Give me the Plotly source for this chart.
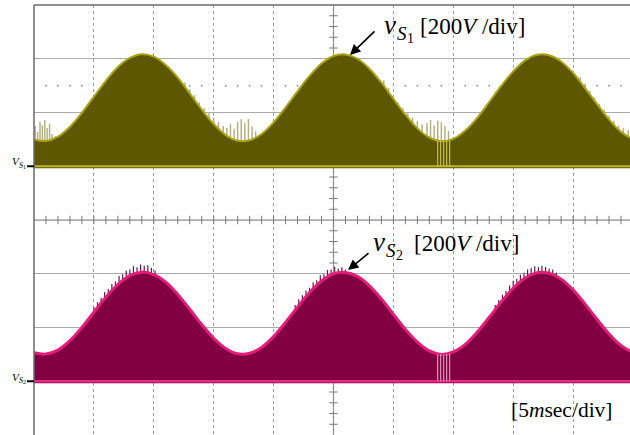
import plotly.graph_objects as go

# ---------------- data ----------------
t_ms = list(range(0, 51))  # time, ms (5 ms/div)

# envelope of switch voltage vS1 (V)
v_s1 = [100, 94, 110, 147, 199, 259, 318, 369, 403, 417, 408, 377, 330, 271, 211, 157, 116, 95,
        97, 120, 163, 219, 279, 336, 382, 410, 416, 400, 363, 311, 251, 192, 141, 107, 93, 102,
        133, 180, 239, 299, 353, 394, 415, 413, 390, 347, 291, 231, 174, 128, 100]

# envelope of switch voltage vS2 (V)
v_s2 = [106, 101, 116, 151, 200, 257, 313, 360, 393, 406, 397, 369, 323, 268, 211, 160, 122, 102,
        104, 126, 166, 219, 276, 330, 373, 400, 405, 390, 355, 306, 249, 193, 146, 113, 100, 109,
        137, 183, 238, 295, 346, 384, 404, 402, 380, 340, 287, 230, 176, 133, 106]

# light ringing spikes on vS1 (time ms, peak V)
s1_spike_t = [0.1, 0.3, 0.5, 0.7, 0.9, 1.1, 1.3, 1.5, 1.8,
              12.6, 13.0, 13.4, 13.8, 14.2, 14.6, 15.0, 15.4, 15.8, 16.1, 16.4, 16.7, 17.0, 17.3,
              17.6, 17.9, 18.2, 18.5,
              29.2, 29.6, 30.0, 30.4, 30.8, 31.2, 31.6, 32.0, 32.4, 32.8, 33.1, 33.4, 33.7, 34.0,
              34.3, 34.6,
              45.6, 46.0, 46.4, 46.8, 47.2, 47.6, 48.0, 48.4, 48.8, 49.2, 49.6]
s1_spike_v = [150, 128, 165, 152, 172, 142, 158, 120, 112,
              312, 287, 264, 238, 216, 197, 180, 164, 150, 142, 158, 140, 165, 175,
              160, 176, 148, 130,
              320, 292, 264, 237, 216, 197, 182, 167, 155, 160, 172, 152, 170, 163,
              150, 132,
              332, 307, 280, 254, 232, 210, 188, 170, 152, 142, 134]

# dark overshoot spikes on vS2 around the peaks (time ms, peak V)
s2_spike_t = [5.0, 5.3, 5.6, 5.9, 6.2, 6.5, 6.8, 7.1, 7.4, 7.7, 8.0, 8.3, 8.6, 8.9, 9.2, 9.5, 9.8, 10.1,
              21.8, 22.1, 22.4, 22.7, 23.0, 23.3, 23.6, 23.9, 24.2, 24.5, 24.8, 25.1, 25.4, 25.7, 26.0,
              38.5, 38.8, 39.1, 39.4, 39.7, 40.0, 40.3, 40.6, 40.9, 41.2, 41.5, 41.8, 42.1, 42.4,
              42.7, 43.0, 43.3, 43.6]
s2_spike_v = [275, 294, 310, 332, 343, 362, 372, 392, 398, 412, 416, 428, 424, 434, 430, 432, 422, 412,
              284, 305, 320, 338, 348, 368, 376, 394, 398, 414, 416, 426, 420, 424, 416,
              284, 302, 322, 336, 356, 374, 381, 396, 404, 416, 421, 428, 424, 430,
              425, 420, 416, 405]

# short dead-band switching lines near the 3rd valley (time ms, height V)
gap_t = [33.7, 33.95, 34.2, 34.45, 34.7]
gap_v1 = [94, 95, 93, 94, 95]
gap_v2 = [100, 101, 100, 101, 102]

VOLTS_PER_DIV = 200.0
CH1_OFF = 1.0   # divisions
CH2_OFF = -3.0

# ---------------- geometry helpers ----------------
X_MAX = 50 * 596 / 599


def px(p):      # page pixel x -> paper fraction
    return (p - 34) / 596


def py(p):      # page pixel y -> paper fraction
    return 1 - (p - 5) / 430


def scale(vals, off):
    return [off + v / VOLTS_PER_DIV for v in vals]


def segments(ts, tops, off, base=0.0):
    xs, ys = [], []
    for t, v in zip(ts, tops):
        xs += [t, t, None]
        ys += [off + base / VOLTS_PER_DIV, off + v / VOLTS_PER_DIV, None]
    return xs, ys


fig = go.Figure()

# dotted reference line (2.5 div) and crosshair minor ticks
dot_t = [k for k in range(1, 50) if k % 5]
fig.add_trace(go.Scatter(x=dot_t, y=[2.5] * len(dot_t), mode="markers",
                         marker=dict(size=2, color="#9a9a9a"), hoverinfo="skip"))
tick_t = list(range(1, 50))
fig.add_trace(go.Scatter(x=tick_t, y=[0] * len(tick_t), mode="markers",
                         marker=dict(symbol="line-ns", size=6, line=dict(width=1, color="#7a7a7a")),
                         hoverinfo="skip"))
tick_d = [k / 5 for k in range(-20, 21) if k % 5]
fig.add_trace(go.Scatter(x=[25] * len(tick_d), y=tick_d, mode="markers",
                         marker=dict(symbol="line-ew", size=6, line=dict(width=1, color="#7a7a7a")),
                         hoverinfo="skip"))

# ---- channel 1 (olive) ----
xs, ys = segments(s1_spike_t, s1_spike_v, CH1_OFF)
fig.add_trace(go.Scatter(x=xs, y=ys, mode="lines", line=dict(color="#b4b084", width=1.5),
                         hoverinfo="skip"))
fig.add_trace(go.Scatter(x=t_ms, y=[CH1_OFF - 0.035] * len(t_ms), mode="lines",
                         line=dict(color="rgba(0,0,0,0)", width=0), hoverinfo="skip"))
fig.add_trace(go.Scatter(x=t_ms, y=scale(v_s1, CH1_OFF), mode="lines", line_shape="spline",
                         line=dict(color="#a9a214", width=2), fill="tonexty", fillcolor="#5d5800",
                         hoverinfo="skip"))
fig.add_trace(go.Scatter(x=[0, 50], y=[CH1_OFF, CH1_OFF], mode="lines",
                         line=dict(color="#bdb620", width=2), hoverinfo="skip"))
xs, ys = segments(gap_t, gap_v1, CH1_OFF)
fig.add_trace(go.Scatter(x=xs, y=ys, mode="lines", line=dict(color="#d6d060", width=1),
                         hoverinfo="skip"))

# ---- channel 2 (magenta) ----
xs, ys = segments(s2_spike_t, s2_spike_v, CH2_OFF)
fig.add_trace(go.Scatter(x=xs, y=ys, mode="lines", line=dict(color="#5e1a48", width=1.2),
                         hoverinfo="skip"))
fig.add_trace(go.Scatter(x=t_ms, y=[CH2_OFF - 0.035] * len(t_ms), mode="lines",
                         line=dict(color="rgba(0,0,0,0)", width=0), hoverinfo="skip"))
fig.add_trace(go.Scatter(x=t_ms, y=scale(v_s2, CH2_OFF), mode="lines", line_shape="spline",
                         line=dict(color="#e21c78", width=3), fill="tonexty", fillcolor="#820041",
                         hoverinfo="skip"))
fig.add_trace(go.Scatter(x=[0, 50], y=[CH2_OFF, CH2_OFF], mode="lines",
                         line=dict(color="#e8288a", width=2.5), hoverinfo="skip"))
xs, ys = segments(gap_t, gap_v2, CH2_OFF)
fig.add_trace(go.Scatter(x=xs, y=ys, mode="lines", line=dict(color="#eeb0cc", width=1),
                         hoverinfo="skip"))

# ---------------- shapes: crosshair, frame, channel markers ----------------
shapes = [
    dict(type="line", xref="x", yref="y", x0=0, x1=X_MAX, y0=0, y1=0,
         line=dict(color="#858585", width=1.2), layer="below"),
    dict(type="line", xref="x", yref="y", x0=25, x1=25, y0=-4, y1=4,
         line=dict(color="#858585", width=1.2), layer="below"),
    dict(type="line", xref="paper", yref="paper", x0=0, x1=0, y0=0, y1=1,
         line=dict(color="#6a6a6a", width=1.5)),
    dict(type="line", xref="paper", yref="paper", x0=0, x1=1, y0=1, y1=1,
         line=dict(color="#6a6a6a", width=1.5)),
    dict(type="line", xref="paper", yref="y", x0=px(27), x1=px(34), y0=CH1_OFF, y1=CH1_OFF,
         line=dict(color="black", width=2)),
    dict(type="line", xref="paper", yref="y", x0=px(27), x1=px(34), y0=CH2_OFF, y1=CH2_OFF,
         line=dict(color="black", width=2)),
]

SERIF = "Liberation Serif, Times New Roman, serif"


def txt(text, x, y, size, anchor="left"):
    return dict(text=text, x=px(x), y=py(y), xref="paper", yref="paper", xanchor=anchor,
                yanchor="middle", showarrow=False, borderpad=0, borderwidth=0,
                font=dict(family=SERIF, size=size, color="black"))


def arrow(hx, hy, tlx, tly):
    return dict(text="", x=px(hx), y=py(hy), xref="paper", yref="paper", ax=tlx - hx, ay=tly - hy,
                showarrow=True, arrowhead=2, arrowsize=1.3, arrowwidth=1.6, arrowcolor="black",
                standoff=0)


annotations = [
    # label for vS1
    txt("<i>v</i>", 384, 25, 27),
    txt("<i>S</i>", 396.5, 33.5, 19),
    txt("1", 406.5, 38.5, 14),
    txt("[200<i>V</i> /div]", 420, 26, 23),
    arrow(350, 55, 376, 30),
    # label for vS2
    txt("<i>v</i>", 373, 242, 27),
    txt("<i>S</i>", 385.5, 250, 19),
    txt("2", 395.5, 255, 14),
    txt("[200<i>V</i> /div]", 414, 243, 23),
    arrow(348, 270, 370, 252),
    # time base
    txt("[5<i>m</i>sec/div]", 511, 410, 21.5),
    # channel zero markers
    txt("<i>V</i>", 11.5, 161.5, 11),
    txt("<i>S</i>", 18.5, 165, 8),
    txt("1", 22.8, 167, 6),
    txt("<i>V</i>", 11.5, 376.5, 11),
    txt("<i>S</i>", 18.5, 380, 8),
    txt("2", 22.8, 382, 6),
]

fig.update_layout(
    width=630, height=435,
    margin=dict(l=34, r=0, t=5, b=0),
    paper_bgcolor="white", plot_bgcolor="white",
    showlegend=False,
    shapes=shapes,
    annotations=annotations,
    xaxis=dict(range=[0, X_MAX], dtick=5, tick0=0, showgrid=True, gridcolor="#9c9c9c",
               griddash="dot", gridwidth=1, showticklabels=False, ticks="", zeroline=False,
               showline=False, fixedrange=True),
    yaxis=dict(range=[-4, 4], dtick=1, tick0=0, showgrid=True, gridcolor="#ababab",
               gridwidth=1, showticklabels=False, ticks="", zeroline=False, showline=False,
               fixedrange=True),
)

fig.write_html("out.html")
